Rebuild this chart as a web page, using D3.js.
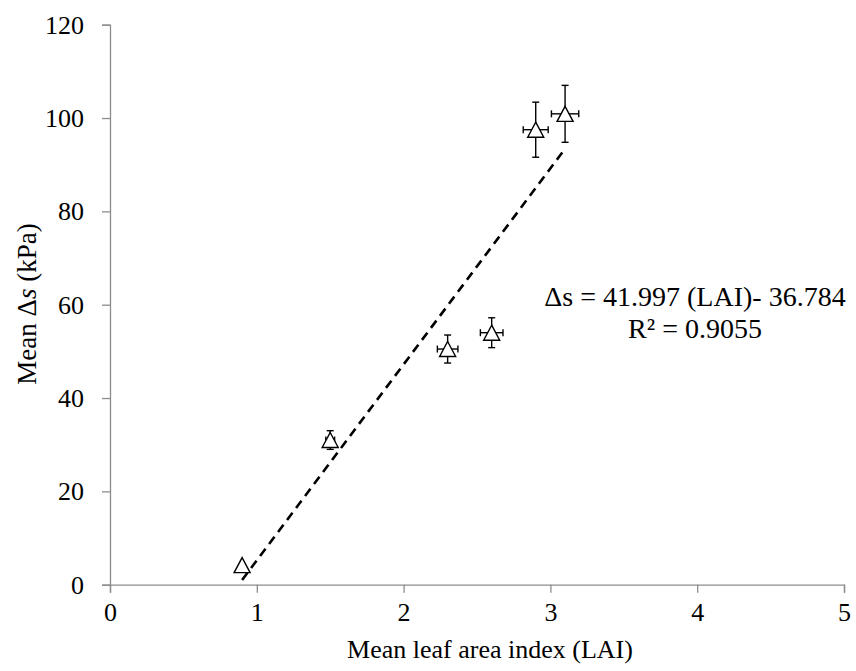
<!DOCTYPE html>
<html><head><meta charset="utf-8">
<script src="https://cdn.jsdelivr.net/npm/d3@7"></script>
<style>body{margin:0;background:#fff}svg{display:block}</style>
</head><body>
<script>
const lai = [0.9, 1.5, 2.3, 2.6, 2.9, 3.1];
const ds = [4.2, 31.0, 50.5, 54.0, 97.5, 100.9];
const dsErr = [0, 2.0, 3.0, 3.2, 5.9, 6.1];
const laiErr = [0, 0.03, 0.07, 0.077, 0.085, 0.093];
const xTicks = [0, 1, 2, 3, 4, 5];
const yTicks = [0, 20, 40, 60, 80, 100, 120];
const slope = 41.997, intercept = -36.784;
const eqLines = ["\u0394s = 41.997 (LAI)- 36.784", "R\u00b2 = 0.9055"];

const FONT = "'Liberation Serif', 'DejaVu Serif', serif";
const W = 856, H = 671;
const svg = d3.select("body").append("svg").attr("width", W).attr("height", H)
  .style("font-family", FONT);
const x = d3.scaleLinear().domain([0, 5]).range([110, 844]);
const y = d3.scaleLinear().domain([0, 120]).range([584.7, 24.7]);
const axisCol = "#8c8c8c";

const gx = svg.append("g").attr("transform", `translate(0,${y(0)})`)
  .call(d3.axisBottom(x).tickValues(xTicks).tickSize(8).tickPadding(10).tickFormat(d3.format("d")));
const gy = svg.append("g").attr("transform", `translate(${x(0)},0)`)
  .call(d3.axisLeft(y).tickValues(yTicks).tickSize(8).tickPadding(18).tickFormat(d3.format("d")));
[gx, gy].forEach(g => {
  g.attr("font-family", null).attr("font-size", null);
  g.select(".domain").attr("stroke", axisCol).attr("stroke-width", 1.3);
  g.selectAll(".tick line").attr("stroke", axisCol).attr("stroke-width", 1.3);
  g.selectAll(".tick text").style("font-family", FONT).style("font-size", "26px").attr("fill", "#000");
});
gy.selectAll(".tick text").attr("dy", "0.33em");

// axis titles
svg.append("text").attr("x", 490).attr("y", 658).attr("text-anchor", "middle")
  .style("font-family", FONT).style("font-size", "26px").text("Mean leaf area index (LAI)");
const yt = svg.append("text").attr("transform", "translate(36,304) rotate(-90)")
  .attr("text-anchor", "middle").style("font-family", FONT).style("font-size", "27px");
yt.append("tspan").text("Mean \u0394");
yt.append("tspan").attr("font-style", "italic").text("s");
yt.append("tspan").text(" (kPa)");

// trendline
const xs = d3.extent(lai);
svg.append("line")
  .attr("x1", x(xs[0])).attr("y1", y(slope * xs[0] + intercept))
  .attr("x2", x(xs[1])).attr("y2", y(slope * xs[1] + intercept))
  .attr("stroke", "#000").attr("stroke-width", 2.6).attr("stroke-dasharray", "9,6");

// error bars
const data = lai.map((v, i) => ({x: v, y: ds[i], ey: dsErr[i], ex: laiErr[i]}));
const eb = svg.append("g").attr("stroke", "#000").attr("stroke-width", 1.4).attr("fill", "none");
data.filter(d => d.ey > 0).forEach(d => {
  const cx = x(d.x), t = y(d.y + d.ey), b = y(d.y - d.ey);
  eb.append("line").attr("x1", cx).attr("x2", cx).attr("y1", t).attr("y2", b);
  eb.append("line").attr("x1", cx - 3.5).attr("x2", cx + 3.5).attr("y1", t).attr("y2", t);
  eb.append("line").attr("x1", cx - 3.5).attr("x2", cx + 3.5).attr("y1", b).attr("y2", b);
});
data.filter(d => d.ex > 0).forEach(d => {
  const cy = y(d.y), l = x(d.x - d.ex), r = x(d.x + d.ex);
  eb.append("line").attr("x1", l).attr("x2", r).attr("y1", cy).attr("y2", cy);
  eb.append("line").attr("x1", l).attr("x2", l).attr("y1", cy - 3.5).attr("y2", cy + 3.5);
  eb.append("line").attr("x1", r).attr("x2", r).attr("y1", cy - 3.5).attr("y2", cy + 3.5);
});

// markers
svg.append("g").selectAll("path").data(data).join("path")
  .attr("transform", d => `translate(${x(d.x)},${y(d.y)})`)
  .attr("d", "M0,-7.5L8,7.5L-8,7.5Z")
  .attr("fill", "#fff").attr("stroke", "#000").attr("stroke-width", 1.4);

// equation
const eq = svg.append("text").attr("text-anchor", "middle")
  .style("font-family", FONT).style("font-size", "28px");
eqLines.forEach((s, i) => eq.append("tspan").attr("x", 695).attr("y", 306 + i * 32).text(s));
</script>
</body></html>
